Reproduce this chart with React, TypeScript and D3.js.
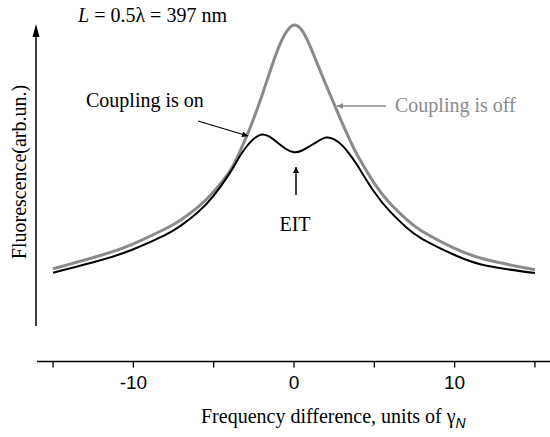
import React from "react";
import * as d3 from "d3";

// Frequency difference (units of gamma_N) and fluorescence (arb. units)
const offX = [-15, -12, -10, -8, -7, -6, -5, -4, -3.5, -3, -2.5, -2, -1.5, -1, -0.5, 0, 0.5, 1, 1.5, 2, 2.5, 3, 3.5, 4, 5, 6, 7, 8, 10, 12, 15];
const offY = [0.19, 0.235, 0.273, 0.323, 0.354, 0.394, 0.446, 0.514, 0.564, 0.624, 0.69, 0.765, 0.845, 0.92, 0.975, 1.0, 0.982, 0.93, 0.865, 0.8, 0.737, 0.675, 0.615, 0.562, 0.474, 0.406, 0.354, 0.314, 0.258, 0.22, 0.187];

const onX = [-15, -12, -10, -8, -7, -6, -5, -4, -3.5, -3, -2.5, -2, -1.5, -1, -0.5, 0, 0.5, 1, 1.5, 2, 2.5, 3, 3.5, 4, 5, 6, 7, 8, 10, 12, 15];
const onY = [0.177, 0.219, 0.255, 0.303, 0.335, 0.377, 0.433, 0.508, 0.553, 0.593, 0.622, 0.636, 0.628, 0.608, 0.588, 0.577, 0.583, 0.598, 0.614, 0.626, 0.62, 0.6, 0.568, 0.529, 0.445, 0.379, 0.327, 0.289, 0.236, 0.2, 0.176];

const xTicks = [-15, -10, -5, 0, 5, 10, 15];
const xTickLabels = ["", "-10", "", "0", "", "10", ""];

const W = 550;
const H = 437;

export default function App() {
  const x = d3.scaleLinear().domain([-16, 16]).range([37, 551]);
  const y = d3.scaleLinear().domain([0, 1]).range([326, 25]);

  const line = d3
    .line<[number, number]>()
    .x((d) => x(d[0]))
    .y((d) => y(d[1]))
    .curve(d3.curveNatural);

  const offPath = line(offX.map((v, i) => [v, offY[i]] as [number, number])) || "";
  const onPath = line(onX.map((v, i) => [v, onY[i]] as [number, number])) || "";

  const axisY = 361.5;
  const serif = "'Liberation Serif', 'Times New Roman', serif";
  const sans = "'Liberation Sans', Arial, sans-serif";
  const gray = "#8a8a8a";

  return (
    <svg
      width={W}
      height={H}
      style={{ position: "absolute", left: 0, top: 0, background: "#fff" }}
    >
      <defs>
        <marker id="ahBlack" viewBox="0 0 10 10" refX="10" refY="5" markerWidth="8" markerHeight="6" markerUnits="userSpaceOnUse" orient="auto">
          <path d="M0,0 L10,5 L0,10 z" fill="#000" />
        </marker>
        <marker id="ahGray" viewBox="0 0 10 10" refX="10" refY="5" markerWidth="8" markerHeight="6" markerUnits="userSpaceOnUse" orient="auto">
          <path d="M0,0 L10,5 L0,10 z" fill={gray} />
        </marker>
      </defs>

      {/* Y axis arrow */}
      <line x1={36} y1={326} x2={36} y2={34} stroke="#000" strokeWidth={1.5} />
      <path d="M32.5,37 L36,24 L39.5,37 z" fill="#000" />

      {/* X axis */}
      <line x1={37} y1={axisY} x2={551} y2={axisY} stroke="#000" strokeWidth={1.5} />
      {xTicks.map((t, i) => (
        <g key={t}>
          <line x1={x(t)} y1={axisY} x2={x(t)} y2={axisY + 6} stroke="#000" strokeWidth={1.3} />
          {xTickLabels[i] && (
            <text x={x(t)} y={389} textAnchor="middle" fontFamily={sans} fontSize={19} fill="#000">
              {xTickLabels[i]}
            </text>
          )}
        </g>
      ))}

      {/* Axis titles */}
      <text x={201} y={423} fontFamily={serif} fontSize={20} fill="#000">
        Frequency difference, units of γ
        <tspan fontFamily={sans} fontStyle="italic" fontSize={14} dy={5}>N</tspan>
      </text>
      <text
        transform="translate(26,172) rotate(-90)"
        textAnchor="middle"
        fontFamily={serif}
        fontSize={20}
        fill="#000"
      >
        Fluorescence(arb.un.)
      </text>

      {/* Curves */}
      <path d={offPath} fill="none" stroke={gray} strokeWidth={3} />
      <path d={onPath} fill="none" stroke="#000" strokeWidth={2} />

      {/* Title */}
      <text x={78} y={22} fontFamily={serif} fontSize={20} fill="#000">
        <tspan fontStyle="italic">L</tspan> = 0.5λ = 397 nm
      </text>

      {/* Annotations */}
      <text x={86} y={107} fontFamily={serif} fontSize={20} fill="#000">Coupling is on</text>
      <line x1={198} y1={121} x2={248} y2={136} stroke="#000" strokeWidth={1.2} markerEnd="url(#ahBlack)" />

      <text x={395} y={112} fontFamily={serif} fontSize={20} fill={gray}>Coupling is off</text>
      <line x1={386} y1={106} x2={337} y2={106} stroke={gray} strokeWidth={1.5} markerEnd="url(#ahGray)" />

      <line x1={296} y1={195} x2={296} y2={167} stroke="#000" strokeWidth={1.5} markerEnd="url(#ahBlack)" />
      <text x={295} y={231} textAnchor="middle" fontFamily={serif} fontSize={20} fill="#000">EIT</text>
    </svg>
  );
}
